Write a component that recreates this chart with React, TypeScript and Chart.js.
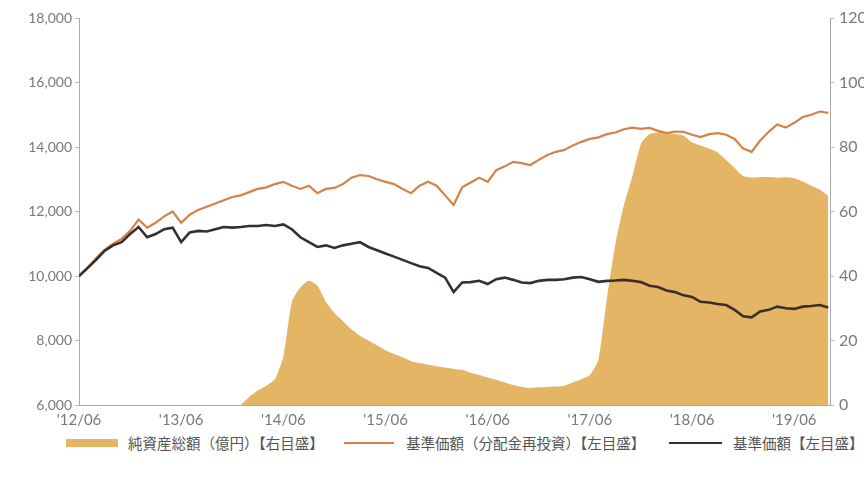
import React, { useEffect, useRef } from "react";
import { Chart, registerables } from "chart.js";

Chart.register(...registerables);

// Monthly observations from 2012/06 (index 0) to 2019/10 (index 88)
const tickMonths = [0, 12, 24, 36, 48, 60, 72, 84];
const tickLabels = ["'12/06", "'13/06", "'14/06", "'15/06", "'16/06", "'17/06", "'18/06", "'19/06"];

// 基準価額（分配金再投資）【左目盛】
const navReinvested = [
  10000, 10250, 10550, 10800, 11000, 11150, 11400, 11750, 11500, 11650,
  11850, 12000, 11650, 11900, 12050, 12150, 12250, 12350, 12450, 12500,
  12600, 12700, 12750, 12850, 12920, 12800, 12700, 12800, 12570, 12700,
  12730, 12850, 13050, 13130, 13100, 13000, 12920, 12850, 12700, 12570,
  12800, 12920, 12800, 12500, 12200, 12750, 12900, 13050, 12920, 13280,
  13400, 13540, 13500, 13440, 13600, 13750, 13850, 13910, 14050, 14160,
  14250, 14300, 14400, 14450, 14550, 14600, 14560, 14590, 14500, 14430,
  14480, 14470, 14380, 14310, 14400, 14430, 14380, 14250, 13950, 13850,
  14200, 14470, 14700, 14600, 14750, 14930, 15000, 15100, 15060,
];

// 基準価額【左目盛】
const nav = [
  10000, 10250, 10500, 10780, 10950, 11050, 11300, 11520, 11200, 11300,
  11450, 11500, 11050, 11350, 11400, 11380, 11450, 11520, 11500, 11520,
  11550, 11550, 11580, 11550, 11600, 11450, 11200, 11050, 10900, 10950,
  10870, 10950, 11000, 11050, 10900, 10800, 10700, 10600, 10500, 10400,
  10300, 10250, 10100, 9950, 9500, 9800, 9810, 9850, 9750, 9900,
  9950, 9880, 9800, 9780, 9850, 9880, 9880, 9900, 9950, 9970,
  9900, 9820, 9850, 9860, 9880, 9850, 9810, 9700, 9660, 9550,
  9500, 9400, 9350, 9200, 9180, 9130, 9100, 8950, 8750, 8720,
  8900, 8950, 9050, 9000, 8980, 9050, 9070, 9100, 9020,
];

// 純資産総額（億円）【右目盛】
const netAssets = [
  null, null, null, null, null, null, null, null, null, null,
  null, null, null, null, null, null, null, null, null, 0,
  2.5, 4.5, 6, 8, 15, 32, 36.5, 38.5, 37, 32,
  28.5, 26, 23.5, 21.5, 20, 18.5, 17, 15.8, 14.8, 13.6,
  13, 12.5, 12, 11.6, 11.2, 10.9, 10, 9.3, 8.5, 7.8,
  7, 6.2, 5.6, 5.3, 5.5, 5.6, 5.7, 6, 7, 8,
  9.3, 14, 33, 50, 62, 71, 81, 84, 84.5, 84.5,
  84, 83.5, 81.5, 80.5, 79.5, 78.3, 76, 73.5, 71, 70.5,
  70.7, 70.7, 70.5, 70.6, 70.3, 69.3, 68, 66.8, 64.8,
];

const legendLabels = ["純資産総額（億円）【右目盛】", "基準価額（分配金再投資）【左目盛】", "基準価額【左目盛】"];

const AREA = "#E4B565";
const ORANGE = "#D4824A";
const DARK = "#3A2F27";
const AXIS_TXT = "#7a7a7a";
const FONT = "Lato, 'Noto Sans', sans-serif";

const toPts = (arr: (number | null)[]) => arr.map((v, i) => ({ x: i, y: v }));

export default function App() {
  const ref = useRef<HTMLCanvasElement | null>(null);
  useEffect(() => {
    if (!ref.current) return;
    const chart = new Chart(ref.current, {
      type: "line",
      data: {
        datasets: [
          {
            label: legendLabels[2],
            data: toPts(nav),
            borderColor: DARK,
            borderWidth: 2.6,
            pointRadius: 0,
            yAxisID: "y",
            order: 1,
            tension: 0,
          },
          {
            label: legendLabels[1],
            data: toPts(navReinvested),
            borderColor: ORANGE,
            borderWidth: 2.2,
            pointRadius: 0,
            yAxisID: "y",
            order: 2,
            tension: 0,
          },
          {
            label: legendLabels[0],
            data: toPts(netAssets),
            borderWidth: 0,
            borderColor: AREA,
            backgroundColor: AREA,
            fill: "origin",
            pointRadius: 0,
            yAxisID: "y1",
            order: 3,
            tension: 0.2,
          },
        ],
      },
      options: {
        animation: false,
        responsive: false,
        maintainAspectRatio: false,
        layout: { padding: { top: 18, left: 0, right: 0, bottom: 0 } },
        plugins: { legend: { display: false }, tooltip: { enabled: false } },
        scales: {
          x: {
            type: "linear",
            min: 0,
            max: 88.2,
            grid: { display: false, drawTicks: false },
            border: { display: true, color: "#aaa", width: 1 },
            afterBuildTicks: (s: any) => {
              s.ticks = tickMonths.map((v) => ({ value: v }));
            },
            afterFit: (s: any) => {
              s.height = 27;
            },
            ticks: {
              padding: 6,
              color: AXIS_TXT,
              font: { family: FONT, size: 15 },
              maxRotation: 0,
              autoSkip: false,
              callback: (v: any) => {
                const i = tickMonths.indexOf(Number(v));
                return i >= 0 ? tickLabels[i] : "";
              },
            },
          },
          y: {
            position: "left",
            min: 6000,
            max: 18000,
            grid: { display: true, drawOnChartArea: false, tickLength: 4, color: "#bbb" },
            border: { display: true, color: "#aaa", width: 1 },
            afterFit: (s: any) => {
              s.width = 79;
            },
            ticks: {
              stepSize: 2000,
              padding: 3,
              color: AXIS_TXT,
              font: { family: FONT, size: 14 },
              callback: (v: any) => Number(v).toLocaleString("en-US"),
            },
          },
          y1: {
            position: "right",
            min: 0,
            max: 120,
            grid: { display: true, drawOnChartArea: false, tickLength: 4, color: "#bbb" },
            border: { display: true, color: "#aaa", width: 1 },
            afterFit: (s: any) => {
              s.width = 34;
            },
            ticks: {
              stepSize: 20,
              padding: 5,
              color: AXIS_TXT,
              font: { family: FONT, size: 16 },
            },
          },
        },
      },
    });
    return () => chart.destroy();
  }, []);

  const legendText: React.CSSProperties = {
    position: "absolute",
    top: 433,
    fontFamily: "'Noto Sans CJK JP', sans-serif",
    fontSize: 14.5,
    color: "#555",
    whiteSpace: "nowrap",
    lineHeight: "20px",
  };
  const sw = (left: number, width: number, height: number, color: string): React.CSSProperties => ({
    position: "absolute",
    left,
    top: 443 - height / 2,
    width,
    height,
    background: color,
  });

  return (
    <div style={{ position: "absolute", left: 0, top: 0, width: 864, height: 487, background: "#fff", overflow: "hidden" }}>
      <canvas ref={ref} width={864} height={432} style={{ position: "absolute", left: 0, top: 0, width: 864, height: 432 }} />
      <div style={sw(66, 52, 8, AREA)} />
      <div style={{ ...legendText, left: 128 }}>{legendLabels[0]}</div>
      <div style={sw(344, 50, 2.5, ORANGE)} />
      <div style={{ ...legendText, left: 406 }}>{legendLabels[1]}</div>
      <div style={sw(669, 53, 2.5, DARK)} />
      <div style={{ ...legendText, left: 733 }}>{legendLabels[2]}</div>
    </div>
  );
}
